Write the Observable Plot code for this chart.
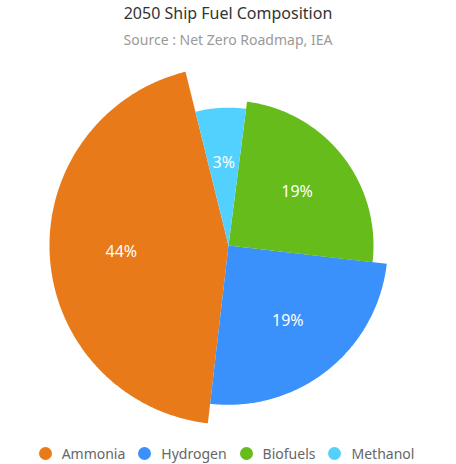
<!DOCTYPE html>
<html>
<head>
<meta charset="utf-8">
<script src="https://cdn.jsdelivr.net/npm/d3@7"></script>
<script src="https://cdn.jsdelivr.net/npm/@observablehq/plot@0.6"></script>
<style>
  body { margin: 0; background: #fff; font-family: "Noto Sans", sans-serif; }
  #wrap { width: 456px; }
  .title { text-align: center; font-size: 16px; line-height: 27px; color: #333; }
  .sub { text-align: center; font-size: 14px; line-height: 25px; color: #9a9a9a; }
  .legend { display: flex; justify-content: center; align-items: center; height: 22px; font-size: 14px; color: #666; padding-left: 10px; }
  .legend span.item { display: flex; align-items: center; margin: 0 13px 0 0; }
  .legend span.dot { width: 13px; height: 13px; border-radius: 50%; margin-right: 10px; }
</style>
</head>
<body>
<div id="wrap">
  <div class="title">2050 Ship Fuel Composition</div>
  <div class="sub">Source : Net Zero Roadmap, IEA</div>
  <div id="chart"></div>
  <div class="legend" id="legend"></div>
</div>
<script>
// data
const fuels = ["Ammonia", "Hydrogen", "Biofuels", "Methanol"];
const labelValues = [44, 19, 19, 3];          // printed on the slices (%)
const angleShares = [44.3, 25, 24.8, 5.9];    // share of the circle each slice takes
const radiusIndex = [100, 89, 81, 77];        // relative outer radius of each slice
const colors = ["#e87a19", "#3a91fb", "#65bc1a", "#53d1fe"];

const width = 456, height = 390;
const cx = 228, cy = 193;   // pie centre inside the svg
const outerR = 179;         // radius for index 100
const startAngle = -13.9 * Math.PI / 180;

// slices run counter-clockwise from just left of 12 o'clock
const arcs = d3.pie().sort(null)
  .startAngle(startAngle)
  .endAngle(startAngle - 2 * Math.PI)(angleShares);

const pts = [];
const labels = [];
arcs.forEach((a, i) => {
  const r = outerR * radiusIndex[i] / 100;
  const n = Math.ceil(Math.abs(a.endAngle - a.startAngle) / (Math.PI / 360));
  pts.push({fuel: fuels[i], x: 0, y: 0});
  for (let k = 0; k <= n; k++) {
    const t = a.startAngle + (a.endAngle - a.startAngle) * k / n;
    pts.push({fuel: fuels[i], x: r * Math.sin(t), y: r * Math.cos(t)});
  }
  pts.push({fuel: fuels[i], x: 0, y: 0});
  const mid = (a.startAngle + a.endAngle) / 2;
  labels.push({fuel: fuels[i], text: labelValues[i] + "%", x: 0.6 * r * Math.sin(mid), y: 0.6 * r * Math.cos(mid)});
});

const chart = Plot.plot({
  width, height,
  margin: 0,
  x: {domain: [-cx, width - cx], axis: null},
  y: {domain: [cy - height, cy], axis: null},
  color: {domain: fuels, range: colors},
  style: {fontFamily: "Noto Sans, sans-serif"},
  marks: [
    Plot.line(pts, {x: "x", y: "y", z: "fuel", fill: "fuel", stroke: null}),
    Plot.text(labels, {x: "x", y: "y", text: "text", fill: "white", fontSize: 16})
  ]
});
document.getElementById("chart").append(chart);

const legend = d3.select("#legend");
fuels.forEach((f, i) => {
  const item = legend.append("span").attr("class", "item");
  item.append("span").attr("class", "dot").style("background", colors[i]);
  item.append("span").text(f);
});
</script>
</body>
</html>
